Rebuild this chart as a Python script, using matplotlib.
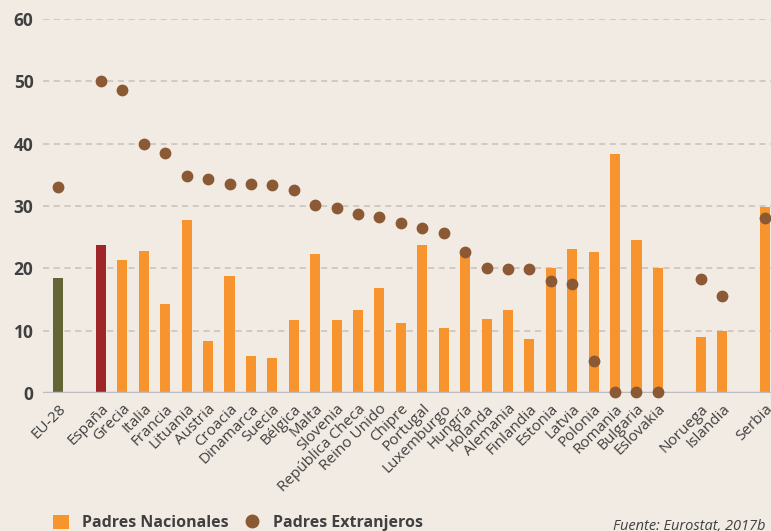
# Padres nacionales vs extranjeros - bar + dot chart
import matplotlib.pyplot as plt
import matplotlib as mpl
from matplotlib.lines import Line2D
from matplotlib.patches import Patch

mpl.rcParams['font.family'] = ['Open Sans', 'DejaVu Sans']

# data (None = gap between groups)
paises = ['EU-28', None, 'España', 'Grecia', 'Italia', 'Francia', 'Lituania', 'Austria',
          'Croacia', 'Dinamarca', 'Suecia', 'Bélgica', 'Malta', 'Slovenia',
          'República Checa', 'Reino Unido', 'Chipre', 'Portugal', 'Luxemburgo',
          'Hungría', 'Holanda', 'Alemania', 'Finlandia', 'Estonia', 'Latvia',
          'Polonia', 'Romania', 'Bulgaria', 'Eslovakia', None, 'Noruega',
          'Islandia', None, 'Serbia']
nacionales = [18.5, None, 23.8, 21.3, 22.8, 14.3, 27.8, 8.4, 18.8, 5.9, 5.6, 11.7,
              22.3, 11.7, 13.3, 16.9, 11.2, 23.8, 10.4, 22.6, 11.9, 13.3, 8.7,
              20.1, 23.1, 22.6, 38.4, 24.6, 20.1, None, 9.0, 10.0, None, 29.8]
extranjeros = [33.0, None, 50.0, 48.6, 40.0, 38.5, 34.8, 34.4, 33.5, 33.5, 33.4, 32.6,
               30.2, 29.7, 28.7, 28.2, 27.2, 26.5, 25.7, 22.6, 20.1, 19.9, 19.9,
               18.0, 17.5, 5.1, 0.2, 0.2, 0.2, None, 18.3, 15.6, None, 28.0]

orange = '#f7942e'
bg = '#f2ebe4'
brown = '#8b5a34'
textc = '#404040'

fig = plt.figure(figsize=(7.71, 5.31), dpi=100, facecolor=bg)
ax = fig.add_axes([0.056, 0.26, 0.944, 0.704], facecolor=bg)

pos = [i for i, p in enumerate(paises) if p is not None]
labels = [p for p in paises if p is not None]
bar_vals = [nacionales[i] for i in pos]
dot_vals = [extranjeros[i] for i in pos]
bar_colors = [orange] * len(pos)
bar_colors[0] = '#636534'
bar_colors[1] = '#9e2629'

ax.bar(pos, bar_vals, width=0.47, color=bar_colors, zorder=2)
ax.scatter(pos, dot_vals, s=56, color=brown, zorder=3, clip_on=False)

# grid
for y in range(10, 61, 10):
    ax.axhline(y, color='#c6c1bc', lw=1.1, dashes=(4, 3), zorder=1)
ax.axhline(0, color='#bbbbbb', lw=2.5, zorder=2.5)

ax.set_ylim(0, 60)
ax.set_xlim(-0.7, 33.28)
ax.set_yticks(range(0, 61, 10))
ax.set_yticklabels([str(v) for v in range(0, 61, 10)], fontsize=12.5,
                   fontweight='bold', color=textc)
ax.set_xticks(pos)
ax.set_xticklabels(labels, rotation=45, ha='right', rotation_mode='anchor',
                   fontsize=11, color=textc)
ax.tick_params(length=0)
ax.tick_params(axis='y', pad=7)
ax.tick_params(axis='x', pad=6)
for s in ax.spines.values():
    s.set_visible(False)

# legend
handles = [Patch(facecolor=orange, edgecolor='none'),
           Line2D([], [], marker='o', color=brown, ls='', markersize=9)]
fig.legend(handles, ['Padres Nacionales', 'Padres Extranjeros'], loc='lower left',
           bbox_to_anchor=(0.05, -0.028), ncol=2, frameon=False,
           prop={'weight': 'bold', 'size': 11.5}, labelcolor=textc,
           handlelength=1.0, handleheight=1.0, handletextpad=0.8, columnspacing=1.0)

fig.text(0.795, 0.022, 'Fuente: Eurostat, 2017b', fontsize=10.5, style='italic',
         color=textc, va='top')

fig.savefig('out.png', dpi=100, facecolor=bg)
